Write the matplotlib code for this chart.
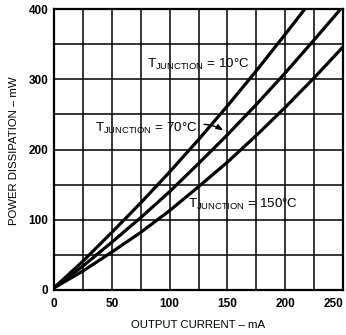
import numpy as np
import matplotlib
matplotlib.use("Agg")
import matplotlib.pyplot as plt
import matplotlib.transforms as mtransforms

plt.rcParams["font.family"] = ["Liberation Sans", "DejaVu Sans"]
plt.rcParams["mathtext.fontset"] = "custom"
plt.rcParams["mathtext.rm"] = "Liberation Sans"

# output current (mA) vs power dissipation (mW)
cur_10 = [0, 25, 50, 75, 100, 125, 150, 175, 200, 217]
pwr_10 = [3, 41, 82, 124, 168, 214, 262, 312, 364, 400]

cur_70 = [0, 25, 50, 75, 100, 125, 150, 175, 200, 225, 248]
pwr_70 = [3, 34, 68, 103, 140, 180, 221, 264, 309, 356, 400]

cur_150 = [0, 25, 50, 75, 100, 125, 150, 175, 200, 225, 250]
pwr_150 = [3, 27, 54, 82, 113, 147, 182, 220, 260, 302, 346]

x_ticks = [0, 50, 100, 150, 200, 250]
y_ticks = [0, 100, 200, 300, 400]

fig = plt.figure(figsize=(3.46, 3.35), dpi=100)
ax = fig.add_axes([54 / 346, 1 - 290 / 335, 289 / 346, 281 / 335])

for c, p in [(cur_10, pwr_10), (cur_70, pwr_70), (cur_150, pwr_150)]:
    ax.plot(c, p, color="black", lw=2.3, solid_capstyle="butt", zorder=3)

ax.set_xlim(0, 250)
ax.set_ylim(0, 400)
ax.set_xticks(x_ticks)
ax.set_yticks(y_ticks)
ax.set_xticks(np.arange(0, 251, 25), minor=True)
ax.set_yticks(np.arange(0, 401, 50), minor=True)
ax.grid(True, which="both", color="black", lw=1.1)
ax.tick_params(which="both", length=0)
ax.tick_params(axis="x", pad=6, labelsize=8.5)
ax.tick_params(axis="y", pad=4, labelsize=8.5)
for lab in ax.get_xticklabels() + ax.get_yticklabels():
    lab.set_fontweight("bold")
# last x label sits at the figure edge; nudge it in so it stays whole
last = ax.get_xticklabels()[-1]
last.set_transform(last.get_transform()
                   + mtransforms.ScaledTranslation(-9 / 100, 0, fig.dpi_scale_trans))
for s in ax.spines.values():
    s.set_linewidth(1.6)

# curve labels
ax.text(80.5, 316, r"T$_{\mathregular{JUNCTION}}$ = 10°C", fontsize=9.6, va="baseline",
        ha="left", zorder=4)
ax.text(35.5, 225, r"T$_{\mathregular{JUNCTION}}$ = 70°C", fontsize=9.6, va="baseline",
        ha="left", zorder=4)
ax.text(116, 117, r"T$_{\mathregular{JUNCTION}}$ = 150°C", fontsize=9.6, va="baseline",
        ha="left", zorder=4)
ax.annotate("", xy=(148.5, 225), xytext=(127.5, 236),
            arrowprops=dict(arrowstyle="-|>,head_length=0.4,head_width=0.15",
                            color="black", lw=1.0, connectionstyle="arc3,rad=-0.15"))

fig.text(14 / 346, 1 - 151 / 335, "POWER DISSIPATION \u2013 mW", rotation=90,
         ha="center", va="center", fontsize=8.2)
fig.text(198 / 346, 1 - 325 / 335, "OUTPUT CURRENT \u2013 mA",
         ha="center", va="center", fontsize=8.2)

fig.savefig("out.png", dpi=100)
